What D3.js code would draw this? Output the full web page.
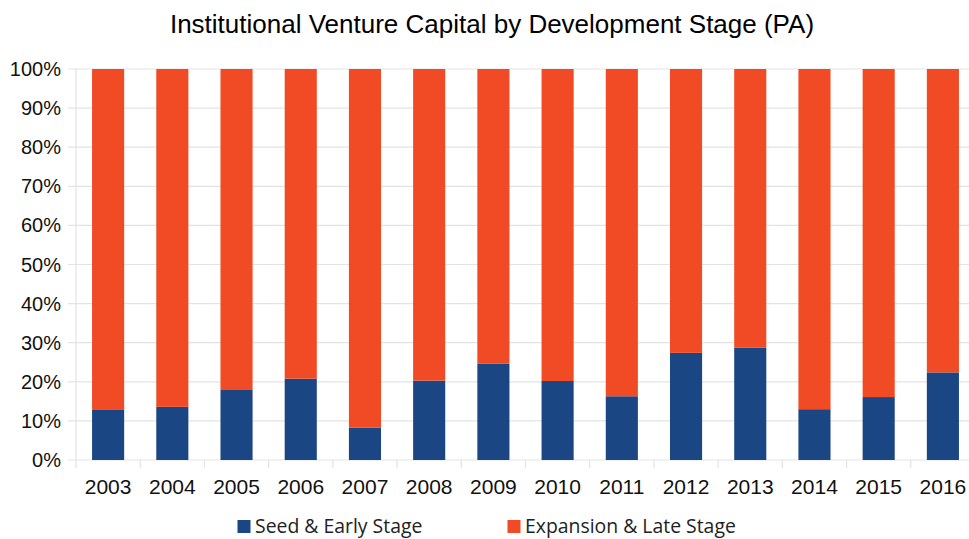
<!DOCTYPE html>
<html><head><meta charset="utf-8">
<script src="https://cdn.jsdelivr.net/npm/d3@7"></script>
<style>body{margin:0;background:#fff}svg{display:block}</style>
</head><body>
<svg id="c" width="969" height="539"></svg>
<script>
const years = ["2003","2004","2005","2006","2007","2008","2009","2010","2011","2012","2013","2014","2015","2016"];
const seedEarly = [12.8,13.6,17.9,20.8,8.3,20.3,24.6,20.2,16.3,27.4,28.7,13.0,16.1,22.4];
const expansionLate = seedEarly.map(v => 100 - v);
const seriesNames = ["Seed & Early Stage","Expansion & Late Stage"];
const seriesColors = ["#1a4784","#f04b24"];
const yTicks = [0,10,20,30,40,50,60,70,80,90,100];

const svg = d3.select("#c");
const pLeft = 76, pRight = 975, pTop = 69, pBottom = 460;
const x = d3.scaleBand().domain(years).range([pLeft, pRight]).paddingInner(0.5).paddingOuter(0.25);
const xb = d3.scaleBand().domain(years).range([pLeft, pRight]);
const y = d3.scaleLinear().domain([0,100]).range([pBottom, pTop]);

svg.append("text").attr("x", 492).attr("y", 33).attr("text-anchor","middle")
  .attr("font-family","Liberation Sans, Arial, sans-serif").attr("font-size", 26).attr("fill","#000")
  .text("Institutional Venture Capital by Development Stage (PA)");

// gridlines
svg.append("g").selectAll("line").data(yTicks).join("line")
  .attr("x1", pLeft - 8).attr("x2", pRight).attr("y1", d => y(d)).attr("y2", d => y(d))
  .attr("stroke", "#e3e3e3").attr("stroke-width", 1.2);
// vertical axis line
svg.append("line").attr("x1", pLeft).attr("x2", pLeft).attr("y1", pTop).attr("y2", pBottom + 8)
  .attr("stroke", "#e3e3e3").attr("stroke-width", 1.2);
// category ticks
svg.append("g").selectAll("line").data(years.slice(1)).join("line")
  .attr("x1", d => xb(d)).attr("x2", d => xb(d)).attr("y1", pBottom).attr("y2", pBottom + 8)
  .attr("stroke", "#e3e3e3").attr("stroke-width", 1.2);

// y labels
svg.append("g").selectAll("text").data(yTicks).join("text")
  .attr("x", 61).attr("y", d => y(d) + 7).attr("text-anchor","end")
  .attr("font-family","Liberation Sans, Arial, sans-serif").attr("font-size", 20).attr("fill","#111")
  .text(d => d + "%");

// bars
const stackData = years.map((yr,i) => ({year: yr, a: seedEarly[i], b: expansionLate[i]}));
const stack = d3.stack().keys(["a","b"])(stackData);
svg.append("g").selectAll("g").data(stack).join("g")
  .attr("fill", (d,i) => seriesColors[i])
  .selectAll("rect").data(d => d).join("rect")
  .attr("x", d => x(d.data.year)).attr("width", x.bandwidth())
  .attr("y", d => y(d[1])).attr("height", d => y(d[0]) - y(d[1]));

// x labels
svg.append("g").selectAll("text").data(years).join("text")
  .attr("x", d => x(d) + x.bandwidth()/2).attr("y", 494).attr("text-anchor","middle")
  .attr("font-family","Liberation Sans, Arial, sans-serif").attr("font-size", 21).attr("fill","#111")
  .text(d => d);

// legend
const legX = [237.5, 507.5];
const leg = svg.append("g").selectAll("g").data(seriesNames).join("g")
  .attr("transform", (d,i) => `translate(${legX[i]},520)`);
leg.append("rect").attr("width", 13).attr("height", 13).attr("fill", (d,i) => seriesColors[i]);
leg.append("text").attr("x", 17.5).attr("y", 13)
  .attr("font-family","Open Sans, sans-serif").attr("font-size", 19.4).attr("fill","#222")
  .text(d => d);
</script>
</body></html>
